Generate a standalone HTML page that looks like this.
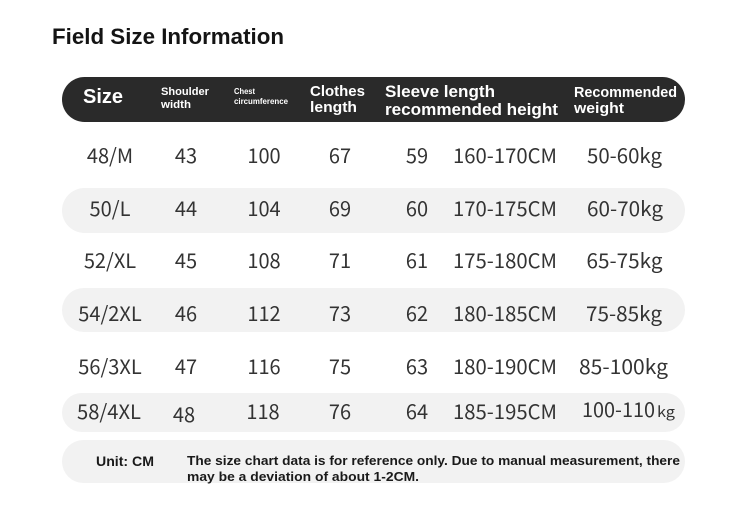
<!DOCTYPE html>
<html>
<head>
<meta charset="utf-8">
<style>
  html,body{margin:0;padding:0;background:#ffffff;}
  svg{display:block;}
  .h{font-family:"Liberation Sans",sans-serif;font-weight:bold;fill:#ffffff;}
  .n{font-family:"Noto Sans CJK JP","Liberation Sans",sans-serif;font-weight:400;fill:#333333;font-size:20px;}
  .f{font-family:"Liberation Sans",sans-serif;font-weight:bold;fill:#1a1a1a;}
</style>
</head>
<body>
<svg width="750" height="514" viewBox="0 0 750 514" xmlns="http://www.w3.org/2000/svg">
  <rect x="0" y="0" width="750" height="514" fill="#ffffff"/>
  <!-- Title -->
  <text x="52" y="44" font-family="Liberation Sans, sans-serif" font-weight="bold" font-size="22" fill="#141414" textLength="232" lengthAdjust="spacingAndGlyphs">Field Size Information</text>

  <!-- Header pill -->
  <rect x="62" y="77" width="623" height="45" rx="22.5" ry="22.5" fill="#2a2a2a"/>
  <text class="h" x="83" y="103" font-size="20" textLength="40" lengthAdjust="spacingAndGlyphs">Size</text>
  <text class="h" x="161" y="95" font-size="11" textLength="48" lengthAdjust="spacingAndGlyphs">Shoulder</text>
  <text class="h" x="161" y="108" font-size="11" textLength="30" lengthAdjust="spacingAndGlyphs">width</text>
  <text class="h" x="234" y="94" font-size="8" textLength="21" lengthAdjust="spacingAndGlyphs">Chest</text>
  <text class="h" x="234" y="104" font-size="8" textLength="54" lengthAdjust="spacingAndGlyphs">circumference</text>
  <text class="h" x="310" y="96" font-size="15" textLength="55" lengthAdjust="spacingAndGlyphs">Clothes</text>
  <text class="h" x="310" y="112" font-size="15" textLength="47" lengthAdjust="spacingAndGlyphs">length</text>
  <text class="h" x="385" y="97" font-size="17" textLength="110" lengthAdjust="spacingAndGlyphs">Sleeve length</text>
  <text class="h" x="385" y="115" font-size="17" textLength="173" lengthAdjust="spacingAndGlyphs">recommended height</text>
  <text class="h" x="574" y="97" font-size="14.4" textLength="103" lengthAdjust="spacingAndGlyphs">Recommended</text>
  <text class="h" x="574" y="113" font-size="14.4" textLength="50" lengthAdjust="spacingAndGlyphs">weight</text>

  <!-- Gray bands -->
  <rect x="62" y="188" width="623" height="45" rx="22.5" ry="22.5" fill="#f2f2f2"/>
  <rect x="62" y="288" width="623" height="44" rx="22" ry="22" fill="#f2f2f2"/>
  <rect x="62" y="393" width="623" height="39" rx="19.5" ry="19.5" fill="#f2f2f2"/>
  <rect x="62" y="440" width="623" height="43" rx="21.5" ry="21.5" fill="#f2f2f2"/>

  <!-- Rows -->
  <g class="n" text-anchor="middle">
    <text x="110" y="163">48/M</text>
    <text x="186" y="163">43</text>
    <text x="264" y="163">100</text>
    <text x="340" y="163">67</text>
    <text x="417" y="163">59</text>
    <text x="505" y="163" textLength="104" lengthAdjust="spacingAndGlyphs">160-170CM</text>
    <text x="624.5" y="163" textLength="75" lengthAdjust="spacingAndGlyphs">50-60kg</text>

    <text x="110" y="216">50/L</text>
    <text x="186" y="216">44</text>
    <text x="264" y="216">104</text>
    <text x="340" y="216">69</text>
    <text x="417" y="216">60</text>
    <text x="505" y="216" textLength="104" lengthAdjust="spacingAndGlyphs">170-175CM</text>
    <text x="625" y="216" textLength="76" lengthAdjust="spacingAndGlyphs">60-70kg</text>

    <text x="110" y="268">52/XL</text>
    <text x="186" y="268">45</text>
    <text x="264" y="268">108</text>
    <text x="340" y="268">71</text>
    <text x="417" y="268">61</text>
    <text x="505" y="268" textLength="104" lengthAdjust="spacingAndGlyphs">175-180CM</text>
    <text x="624.5" y="268" textLength="76" lengthAdjust="spacingAndGlyphs">65-75kg</text>

    <text x="110" y="321">54/2XL</text>
    <text x="186" y="321">46</text>
    <text x="264" y="321">112</text>
    <text x="340" y="321">73</text>
    <text x="417" y="321">62</text>
    <text x="505" y="321" textLength="104" lengthAdjust="spacingAndGlyphs">180-185CM</text>
    <text x="624" y="321" textLength="76" lengthAdjust="spacingAndGlyphs">75-85kg</text>

    <text x="110" y="374">56/3XL</text>
    <text x="186" y="374">47</text>
    <text x="264" y="374">116</text>
    <text x="340" y="374">75</text>
    <text x="417" y="374">63</text>
    <text x="505" y="374" textLength="104" lengthAdjust="spacingAndGlyphs">180-190CM</text>
    <text x="623.5" y="374" textLength="89" lengthAdjust="spacingAndGlyphs">85-100kg</text>

    <text x="109" y="419" textLength="64" lengthAdjust="spacingAndGlyphs">58/4XL</text>
    <text x="184" y="422">48</text>
    <text x="263" y="419">118</text>
    <text x="340" y="419">76</text>
    <text x="417" y="419">64</text>
    <text x="505" y="419" textLength="104" lengthAdjust="spacingAndGlyphs">185-195CM</text>
  </g>
  <text class="n" x="582" y="417" textLength="73" lengthAdjust="spacingAndGlyphs">100-110</text>
  <text class="n" x="657" y="417" style="font-size:15px" textLength="18" lengthAdjust="spacingAndGlyphs">kg</text>

  <!-- Footer -->
  <text class="f" x="96" y="466" font-size="14" textLength="58" lengthAdjust="spacingAndGlyphs">Unit: CM</text>
  <text class="f" x="187" y="465" font-size="13" textLength="493" lengthAdjust="spacingAndGlyphs">The size chart data is for reference only. Due to manual measurement, there</text>
  <text class="f" x="187" y="481" font-size="13" textLength="232" lengthAdjust="spacingAndGlyphs">may be a deviation of about 1-2CM.</text>
</svg>
</body>
</html>
